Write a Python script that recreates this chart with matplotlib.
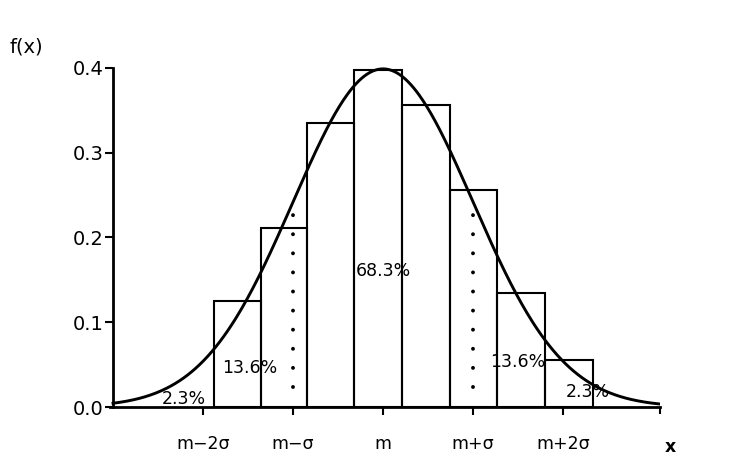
import numpy as np
import matplotlib
matplotlib.use('Agg')
import matplotlib.pyplot as plt

# histogram bins (in units of sigma, centred on m) and bar heights
bin_edges = [-1.88, -1.36, -0.84, -0.32, 0.21, 0.74, 1.27, 1.80, 2.33]
bar_heights = [0.125, 0.211, 0.335, 0.398, 0.356, 0.256, 0.134, 0.055]

tick_pos = [-2, -1, 0, 1, 2]
tick_labels = ['m\u22122\u03c3', 'm\u2212\u03c3', 'm', 'm+\u03c3', 'm+2\u03c3']
yticks = [0.0, 0.1, 0.2, 0.3, 0.4]

# area labels: text, x, y
pct_text = ['68.3%', '13.6%', '13.6%', '2.3%', '2.3%']
pct_x = [0.0, -1.48, 1.50, -2.21, 2.27]
pct_y = [0.160, 0.046, 0.053, 0.009, 0.018]

x_lo, x_hi = -3.03, 3.08
fs = 12.5

fig = plt.figure(figsize=(7.45, 4.57), dpi=100, facecolor='white')
ax = fig.add_axes([0.1481, 0.1094, 0.7381, 0.7604])
ax.set_xlim(x_lo, x_hi)
ax.set_ylim(0, 0.41)

# bars
edges = np.array(bin_edges)
ax.bar(edges[:-1], bar_heights, width=np.diff(edges), align='edge',
       facecolor='none', edgecolor='black', linewidth=1.5, zorder=2)

# normal curve
xs = np.linspace(-3.0, x_hi, 400)
pdf = np.exp(-0.5 * xs ** 2) / np.sqrt(2 * np.pi)
ax.plot(xs, pdf, color='black', linewidth=2.1, zorder=3)

# dotted lines at m-sigma and m+sigma
for s in (-1, 1):
    top = np.exp(-0.5) / np.sqrt(2 * np.pi)
    ax.plot([s, s], [0.024, top], color='black', linewidth=2.8,
            linestyle=(0, (0.01, 4.9)), dash_capstyle='round', zorder=2)

for t, x, y in zip(pct_text, pct_x, pct_y):
    ax.text(x, y, t, ha='center', va='center', fontsize=fs, zorder=4)

# axes styling
for side in ('top', 'right'):
    ax.spines[side].set_visible(False)
ax.spines['left'].set_position(('data', -3.0))
ax.spines['left'].set_bounds(0, 0.4)
ax.spines['left'].set_linewidth(2.0)
ax.spines['bottom'].set_linewidth(2.0)

ax.set_yticks(yticks)
ax.set_yticklabels([f'{v:.1f}' for v in yticks])
ax.set_xticks(tick_pos)
ax.set_xticklabels(tick_labels)
ax.set_xticks([x_hi], minor=True)
ax.tick_params(axis='y', direction='out', length=6, width=1.5, pad=1, labelsize=14)
ax.tick_params(axis='x', direction='out', length=6, width=1.5, pad=14, labelsize=fs)
ax.tick_params(axis='x', which='minor', direction='out', length=5, width=1.5)

fig.text(26 / 745, 1 - 47 / 457, 'f(x)', ha='center', va='center', fontsize=14)
fig.text(670 / 745, 1 - 456 / 457, 'x', ha='center', va='bottom', fontsize=fs,
         fontweight='bold')

fig.savefig('out.png', dpi=100, facecolor='white')
